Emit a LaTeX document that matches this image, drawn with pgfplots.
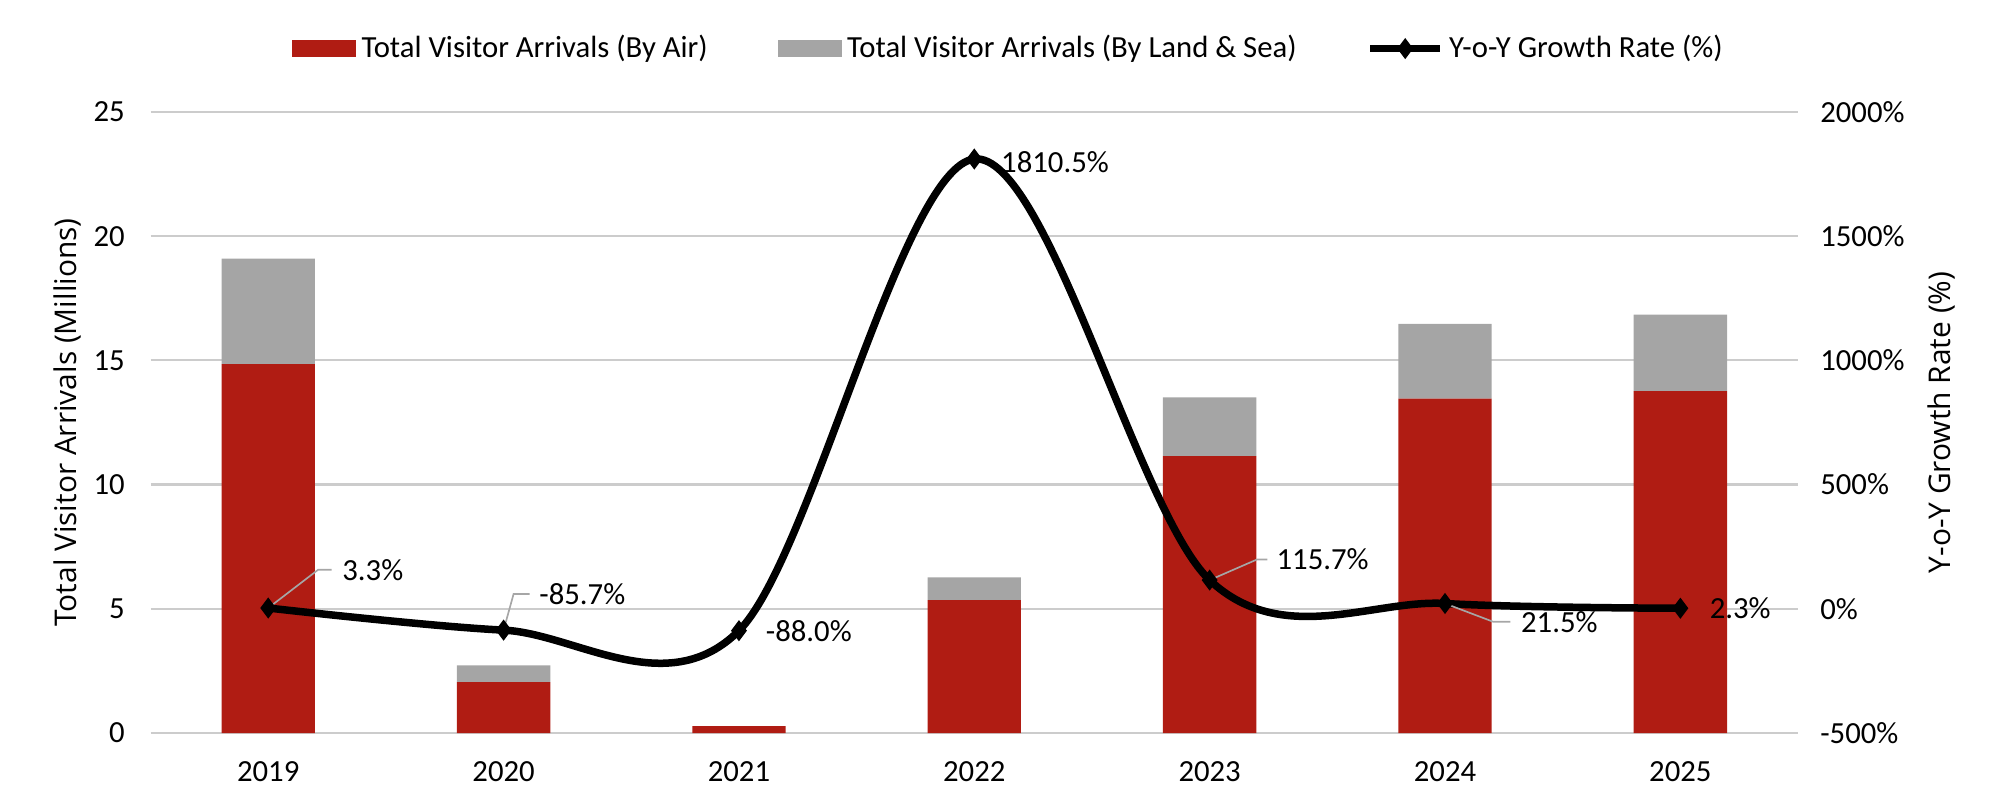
\documentclass[border=0pt]{standalone}
\usepackage{pgfplots}
\usepackage{pgfplotstable}
\pgfplotsset{compat=1.18}
\usepackage{fontspec}
\setmainfont{Carlito}
\newfontfamily\labelfont{Open Sans}

\definecolor{airred}{RGB}{176,28,19}
\definecolor{landgray}{RGB}{165,165,165}
\definecolor{gridgray}{RGB}{204,204,204}
\definecolor{leadgray}{RGB}{166,166,166}

\pgfplotsset{
  boxlegend/.style={legend image code/.code={\fill[##1] (0bp,-3.2bp) rectangle (23bp,3.2bp);}},
  linelegend/.style={legend image code/.code={\draw[##1, mark repeat=2, mark phase=2]
    plot coordinates {(0bp,0bp) (12.5bp,0bp) (25bp,0bp)};}},
}

% visitor arrivals, millions
\pgfplotstableread{
x air land
0 14.85 4.25
1 2.05 0.67
2 0.28 0.00
3 5.35 0.92
4 11.15 2.36
5 13.46 3.01
6 13.76 3.08
}\arrivals

% y-o-y growth, percent
\pgfplotstableread{
x g
0 3.3
1 -85.7
2 -88.0
3 1810.5
4 115.7
5 21.5
6 2.3
}\growth

\newcommand\lblfont{\fontsize{11.1}{13.3}\selectfont}
\newcommand\axlabelfont{\labelfont\fontsize{10.8}{13}\selectfont}

\begin{document}
\begin{tikzpicture}[font=\lblfont]
\pgfplotsset{
  base/.style={
    width=593.1bp, height=223.6bp, scale only axis,
    xmin=-0.5, xmax=6.5,
    major tick length=0pt,
    axis line style={draw=none},
    tick label style={font=\lblfont},
  },
}
\begin{axis}[base,
  ybar stacked, bar width=33.6bp,
  ymin=0, ymax=25, ytick={0,5,10,15,20,25},
  yticklabels={0,5,10,15,20,25},
  xtick={0,1,2,3,4,5,6},
  xticklabels={2019,2020,2021,2022,2023,2024,2025},
  ymajorgrids, grid style={gridgray, line width=0.8bp},
  ylabel={\axlabelfont Total Visitor Arrivals (Millions)},
  every axis y label/.style={at={(axis description cs:-0.0505,0.5)}, rotate=90, anchor=center},
  yticklabel style={xshift=-5.8bp},
  xticklabel style={yshift=-6.6bp},
]
\addplot[fill=airred, draw=none] table[x=x, y=air]{\arrivals};
\addplot[fill=landgray, draw=none] table[x=x, y=land]{\arrivals};
\end{axis}

\begin{axis}[base,
  xtick=\empty,
  ymin=-500, ymax=2000, ytick={-500,0,500,1000,1500,2000},
  yticklabels={-500\%,0\%,500\%,1000\%,1500\%,2000\%},
  yticklabel pos=right,
  yticklabel style={anchor=west, xshift=4.5bp},
  ylabel={\axlabelfont Y-o-Y Growth Rate (\%)},
  every axis y label/.style={at={(axis description cs:1.0868,0.5)}, rotate=90, anchor=center},
  legend style={at={(0.5218,1.102)}, anchor=center, draw=none, fill=none,
    legend columns=3, font=\lblfont,
    /tikz/every even column/.append style={column sep=23.2bp}},
  legend cell align=left,
]
\addlegendimage{fill=airred, draw=none, boxlegend}
\addlegendentry{Total Visitor Arrivals (By Air)}
\addlegendimage{fill=landgray, draw=none, boxlegend}
\addlegendentry{Total Visitor Arrivals (By Land \& Sea)}
\addplot[black, line width=2.7bp, smooth, tension=0.55,
  mark=diamond*, mark size=3.4bp, mark options={solid, line width=0.5bp},
  linelegend]
  table[x=x, y=g]{\growth};
\addlegendentry{Y-o-Y Growth Rate (\%)}

% data labels with leader lines
\draw[leadgray, line width=0.6bp] (axis cs:0,3.3)
  -- ([xshift=18bp,yshift=13.8bp]axis cs:0,3.3)
  -- ([xshift=22.8bp,yshift=13.8bp]axis cs:0,3.3)
  node[anchor=west, black, inner sep=0pt, xshift=3.6bp] {3.3\%};
\draw[leadgray, line width=0.6bp] (axis cs:1,-85.7)
  -- ([xshift=3.6bp,yshift=13bp]axis cs:1,-85.7)
  -- ([xshift=9.4bp,yshift=13bp]axis cs:1,-85.7)
  node[anchor=west, black, inner sep=0pt, xshift=3.2bp] {-85.7\%};
\node[anchor=west, inner sep=0pt] at ([xshift=9.5bp]axis cs:2,-88.0) {-88.0\%};
\node[anchor=west, inner sep=0pt] at ([xshift=9.5bp,yshift=-1bp]axis cs:3,1810.5) {1810.5\%};
\draw[leadgray, line width=0.6bp] (axis cs:4,115.7)
  -- ([xshift=17bp,yshift=7.4bp]axis cs:4,115.7)
  -- ([xshift=20.8bp,yshift=7.4bp]axis cs:4,115.7)
  node[anchor=west, black, inner sep=0pt, xshift=3bp] {115.7\%};
\draw[leadgray, line width=0.6bp] (axis cs:5,21.5)
  -- ([xshift=17.4bp,yshift=-6.6bp]axis cs:5,21.5)
  -- ([xshift=23.5bp,yshift=-6.6bp]axis cs:5,21.5)
  node[anchor=west, black, inner sep=0pt, xshift=3.6bp] {21.5\%};
\node[anchor=west, inner sep=0pt] at ([xshift=10.4bp]axis cs:6,2.3) {2.3\%};
\end{axis}

\pgfresetboundingbox
\path (-54.2bp,-28.4bp) rectangle (665.8bp,263.9bp);
\end{tikzpicture}
\end{document}
